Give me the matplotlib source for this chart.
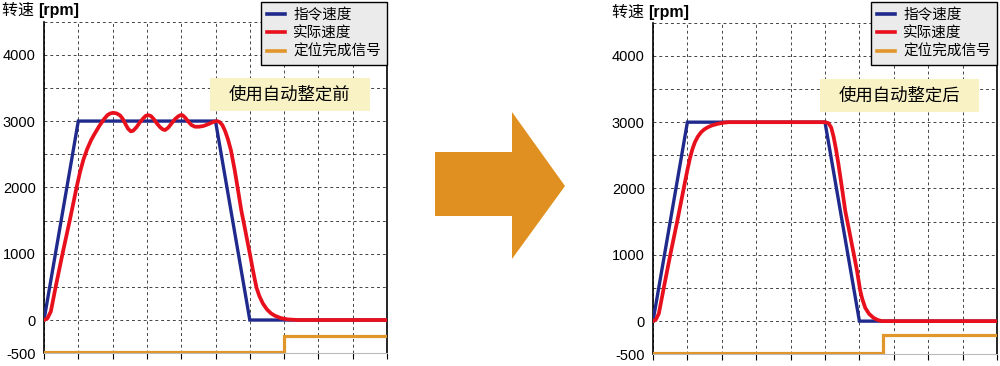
import matplotlib
matplotlib.use('Agg')
import matplotlib.pyplot as plt
from matplotlib.patches import Polygon, Rectangle
from matplotlib.lines import Line2D

plt.rcParams['font.family'] = ['Liberation Sans', 'Noto Sans CJK SC', 'DejaVu Sans']

# ---- data ----
cmd_t = [0, 1.0, 5.0, 6.0, 10.0]
cmd_v = [0, 3000, 3000, 0, 0]

before_t = [0, 0.1, 0.2, 0.34, 0.54, 0.75, 0.95, 1.05, 1.15, 1.26, 1.38, 1.5, 1.63,
            1.75, 1.85, 1.93, 2.02, 2.12, 2.22, 2.30, 2.38, 2.45, 2.53, 2.60, 2.70,
            2.80, 2.90, 2.97, 3.04, 3.12, 3.20, 3.29, 3.38, 3.46, 3.53, 3.62, 3.72,
            3.82, 3.91, 3.98, 4.04, 4.12, 4.21, 4.30, 4.40, 4.52, 4.64, 4.75, 4.84,
            4.95, 5.05, 5.12, 5.20, 5.28, 5.36, 5.45, 5.56, 5.65, 5.75, 5.85, 5.94,
            6.02, 6.09, 6.15, 6.20, 6.28, 6.38, 6.50, 6.62, 6.73, 6.90, 7.10, 7.40, 10.0]
before_v = [0, 25, 130, 500, 1000, 1500, 2000, 2230, 2420, 2580, 2720, 2830, 2940,
            3030, 3090, 3115, 3125, 3115, 3085, 3030, 2950, 2885, 2845, 2855, 2910,
            2985, 3045, 3080, 3090, 3075, 3030, 2965, 2910, 2875, 2865, 2900, 2965,
            3030, 3070, 3090, 3088, 3050, 2990, 2940, 2915, 2915, 2925, 2945, 2965,
            2990, 3000, 2985, 2940, 2850, 2730, 2560, 2260, 1980, 1660, 1400, 1160,
            950, 755, 600, 480, 360, 250, 160, 100, 65, 30, 10, 0, 0]

after_t = [0, 0.08, 0.17, 0.32, 0.51, 0.71, 0.90, 1.0, 1.08, 1.15, 1.22, 1.30, 1.40,
           1.50, 1.60, 1.72, 1.88, 2.05, 2.2, 5.0, 5.1, 5.18, 5.25, 5.32, 5.39, 5.49,
           5.59, 5.69, 5.78, 5.86, 5.93, 5.98, 6.02, 6.08, 6.17, 6.28, 6.41, 6.53,
           6.65, 10.0]
after_v = [0, 20, 115, 520, 1020, 1520, 2020, 2280, 2470, 2600, 2700, 2780, 2850,
           2895, 2925, 2952, 2975, 2992, 3000, 3000, 2985, 2920, 2780, 2590, 2370, 2020,
           1660, 1400, 1160, 950, 760, 600, 470, 340, 200, 110, 50, 18,
           0, 0]

pos_before_t = [0, 7.0, 7.0, 10.0]
pos_before_v = [-475, -475, -235, -235]
pos_after_t = [0, 6.69, 6.69, 10.0]
pos_after_v = [-480, -480, -215, -215]

ytick_vals = [-500, 0, 500, 1000, 1500, 2000, 2500, 3000, 3500, 4000, 4500]
ytick_labels = ['-500', '0', '', '1000', '', '2000', '', '3000', '', '4000', '']

legend_names = ['指令速度', '实际速度', '定位完成信号']
panel_notes = ['使用自动整定前', '使用自动整定后']

BLUE = '#1f2a8c'
RED = '#e8101c'
ORANGE = '#e0962a'

fig = plt.figure(figsize=(10, 3.66), dpi=100)


def make_panel(rect, real_t, real_v, pos_t, pos_v, note, note_box, legend_anchor, title_xy):
    ax = fig.add_axes(rect)
    ax.set_xlim(0, 10)
    ax.set_ylim(-500, 4500)
    ax.set_xticks(range(0, 11))
    ax.set_xticklabels([])
    ax.set_yticks(ytick_vals)
    ax.set_yticklabels(ytick_labels, fontsize=10.5)
    ax.tick_params(axis='y', length=0, pad=6)
    ax.tick_params(axis='x', length=4, direction='out', color='black', width=0.8)
    ax.grid(True, linestyle=(0, (3, 3)), color='#444444', linewidth=0.7)
    ax.spines['top'].set_visible(False)
    ax.spines['bottom'].set_color('#bbbbbb')
    ax.spines['left'].set_linewidth(1.2)
    ax.spines['right'].set_linewidth(1.2)

    ax.plot(pos_t, pos_v, color=ORANGE, lw=2.3, solid_joinstyle='miter', zorder=3)
    ax.plot(cmd_t, cmd_v, color=BLUE, lw=2.4, solid_joinstyle='miter', zorder=3)
    ax.plot(real_t, real_v, color=RED, lw=2.7, solid_joinstyle='round', zorder=4)

    bx, by, bw, bh = note_box
    ax.add_patch(Rectangle((bx, by), bw, bh, transform=ax.transAxes,
                           facecolor='#f8f2c4', edgecolor='none', zorder=5))
    ax.text(bx + bw / 2, by + bh / 2, note, transform=ax.transAxes,
            ha='center', va='center', fontsize=12.5, zorder=6)

    handles = [Line2D([], [], color=c, lw=2.6) for c in (BLUE, RED, ORANGE)]
    leg = fig.legend(handles, legend_names, loc='upper right',
                     bbox_to_anchor=legend_anchor, fontsize=10.5,
                     frameon=True, fancybox=False, framealpha=1,
                     facecolor='#ebebeb', edgecolor='black',
                     handlelength=1.2, handletextpad=0.6, labelspacing=0.3,
                     borderpad=0.4, borderaxespad=0)
    leg.get_frame().set_linewidth(1.0)

    tx, ty = title_xy
    t1 = fig.text(tx, ty, '转速 ', fontsize=11.5, va='center', ha='left')
    fig.canvas.draw()
    bb = t1.get_window_extent()
    fig.text(bb.x1 / fig.bbox.width, ty, '[rpm]', fontsize=11.5,
             fontweight='bold', va='center', ha='left')
    return ax


make_panel([0.044, 0.035, 0.343, 0.906], before_t, before_v,
           pos_before_t, pos_before_v, panel_notes[0],
           (0.484, 0.730, 0.466, 0.0995), (0.387, 1 - 2 / 366), (0.002, 1 - 10 / 366))
make_panel([0.653, 0.032, 0.344, 0.906], after_t, after_v,
           pos_after_t, pos_after_v, panel_notes[1],
           (0.485, 0.730, 0.462, 0.0995), (0.997, 1 - 2 / 366), (0.612, 1 - 12 / 366))

# big orange arrow between the panels (pixel outline -> figure fraction)
arrow_px = [(435, 152), (512, 152), (512, 112), (565, 186), (512, 259), (512, 216), (435, 216)]
arrow = Polygon([(x / 1000, 1 - y / 366) for x, y in arrow_px], closed=True,
                transform=fig.transFigure, facecolor='#e09020', edgecolor='none')
fig.patches.append(arrow)

fig.savefig('out.png', dpi=100)
